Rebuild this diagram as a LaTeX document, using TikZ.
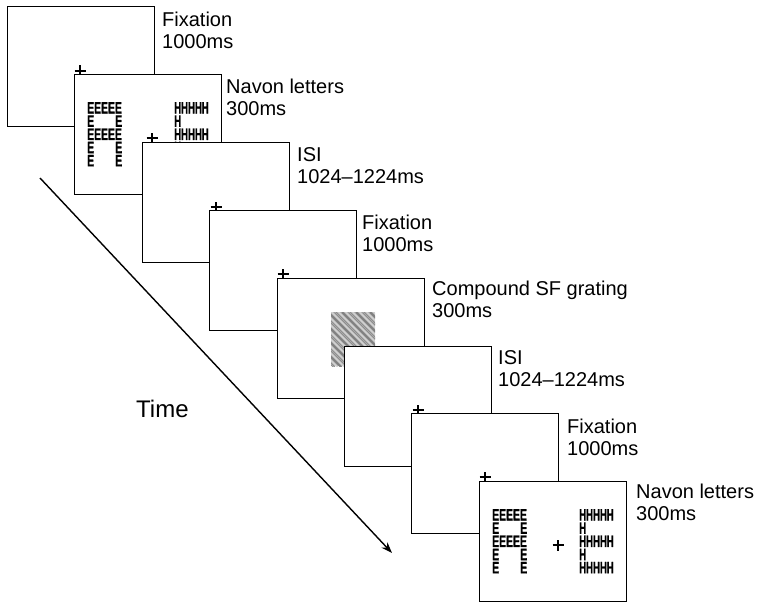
\documentclass[tikz,border=0pt]{standalone}
\usepackage{fontspec}
\setmainfont{Liberation Sans}
\newfontface\navfont{Liberation Sans Bold}[FakeBold=1.2]
\usetikzlibrary{arrows.meta}
\begin{document}
\begin{tikzpicture}[x=1pt,y=-1pt,
  scr/.style={draw=black, fill=white, line width=1.4pt, minimum width=147pt, minimum height=120pt, anchor=north west, inner sep=0pt},
  fixcross/.style={line width=1.2pt},
  lbl/.style={anchor=base west, inner sep=0pt, font=\fontsize{20}{22}\selectfont},
  small/.style={inner sep=0pt, anchor=north west, font=\fontsize{16.5}{13.2}\selectfont\navfont},
  timeaxis/.style={line width=1.4pt, -{Stealth[length=11pt,width=8pt]}}
]
\useasboundingbox (0,0) rectangle (763,610);
% cross macro
\newcommand{\fixcr}[1]{\draw[fixcross] ([xshift=-5.5pt]#1) -- ([xshift=5.5pt]#1) ([yshift=-5.5pt]#1) -- ([yshift=5.5pt]#1);}
\newcommand{\ee}{\scalebox{0.63}[1]{E}}
\newcommand{\hh}{\scalebox{0.58}[1]{H}}
\newcommand{\ef}{\hbox to 35pt{\ee\ee\ee\ee\ee\hss}}
\newcommand{\es}{\hbox to 35pt{\ee\hfill\ee}}
\newcommand{\hf}{\hbox to 35pt{\hh\hh\hh\hh\hh\hss}}
\newcommand{\hs}{\hbox to 35pt{\hh\hfill}}
\newcommand{\navstack}[1]{\vbox{\baselineskip=13.2pt\lineskiplimit=-20pt\lineskip=0pt #1}}
% Navon: A made of E's, E made of H's; origin = frame top-left
\newcommand{\navon}[3]{%
  \node[small] (#1a) at ({#2+13},{#3+28}) {\navstack{\ef\es\ef\es\es}};
  \node[small] (#1b) at ({#2+100},{#3+28}) {\navstack{\hf\hs\hf\hs\hf}};
}

% frame 1
\node[scr] (f1) at (7,6) {};
\coordinate (c1) at (80,71); \fixcr{c1}
% frame 2
\node[scr] (f2) at (74,74) {};
\navon{n2}{74}{74}
\coordinate (c2) at (152,138); \fixcr{c2}
% frame 3
\node[scr] (f3) at (142,142) {};
\coordinate (c3) at (216,207); \fixcr{c3}
% frame 4
\node[scr] (f4) at (209,210) {};
\coordinate (c4) at (283,274); \fixcr{c4}
% frame 5
\node[scr] (f5) at (277,278) {};
\begin{scope}
  \clip (331,312) rectangle (375,366);
  \fill[gray!58] (331,312) rectangle (375,366);
  \foreach \k in {-66,-59,...,50} \draw[black!50, line width=1.8pt] (331+\k,312) -- ++(70,70);
  \foreach \k in {-62.5,-55.5,...,50} \draw[gray!35, line width=1.1pt] (331+\k,312) -- ++(70,70);
  \foreach \k in {-80,-66,...,50} \draw[gray!45, line width=0.8pt, opacity=0.6] (331+\k,312) -- ++(70,70);
\end{scope}
% frame 6
\node[scr] (f6) at (344,346) {};
\coordinate (c6) at (418,410); \fixcr{c6}
% frame 7
\node[scr] (f7) at (411,413) {};
\coordinate (c7) at (485,477); \fixcr{c7}
% frame 8
\node[scr] (f8) at (479,481) {};
\navon{n8}{479}{481}
\coordinate (c8) at (558,545); \fixcr{c8}

% labels
\node[lbl] (l1) at (162,27) {\begin{tabular}[t]{@{}l@{}}Fixation\\1000ms\end{tabular}};
\node[lbl] (l2) at (226,93) {\begin{tabular}[t]{@{}l@{}}Navon letters\\300ms\end{tabular}};
\node[lbl] (l3) at (297,161) {\begin{tabular}[t]{@{}l@{}}ISI\\1024–1224ms\end{tabular}};
\node[lbl] (l4) at (362,229) {\begin{tabular}[t]{@{}l@{}}Fixation\\1000ms\end{tabular}};
\node[lbl] (l5) at (432,295) {\begin{tabular}[t]{@{}l@{}}Compound SF grating\\300ms\end{tabular}};
\node[lbl] (l6) at (498,364) {\begin{tabular}[t]{@{}l@{}}ISI\\1024–1224ms\end{tabular}};
\node[lbl] (l7) at (567,433) {\begin{tabular}[t]{@{}l@{}}Fixation\\1000ms\end{tabular}};
\node[lbl] (l8) at (636,498) {\begin{tabular}[t]{@{}l@{}}Navon letters\\300ms\end{tabular}};

% time arrow
\coordinate (t0) at (40,178);
\coordinate (t1) at (392,553);
\draw[timeaxis] (t0) -- (t1);
\node[anchor=base west, inner sep=0pt, font=\fontsize{24}{24}\selectfont] (time) at (136,417) {Time};
\end{tikzpicture}
\end{document}
